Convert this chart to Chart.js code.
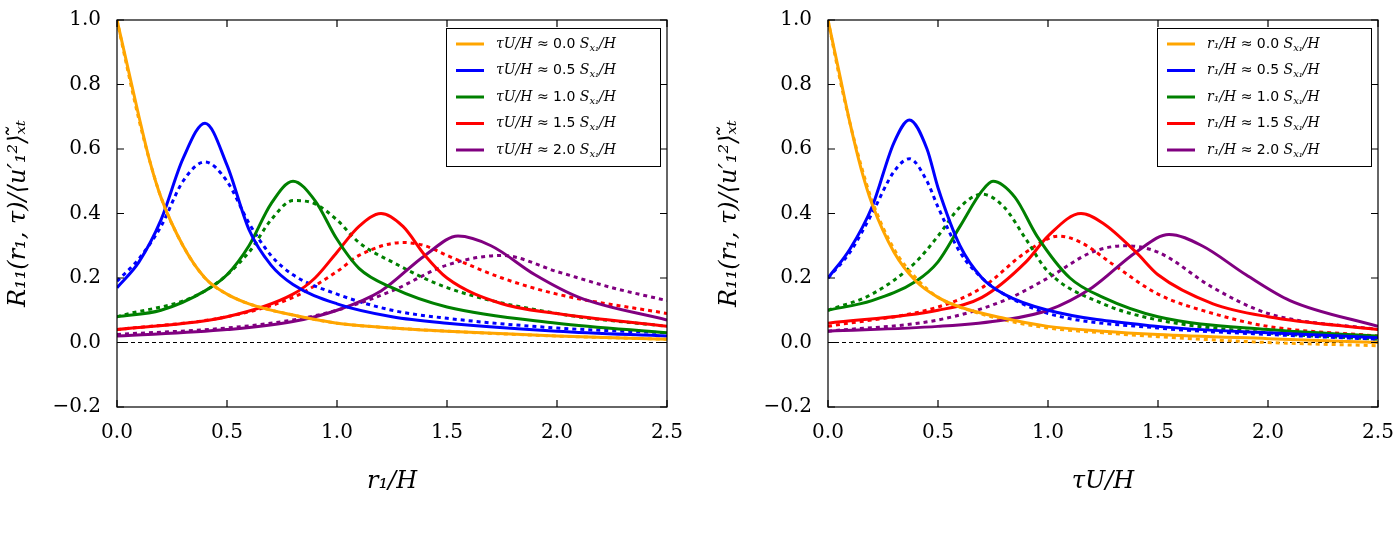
<!DOCTYPE html>
<html><head><meta charset="utf-8">
<script src="https://cdn.jsdelivr.net/npm/chart.js@4"></script>
<style>
body{margin:0;background:#fff;width:1400px;height:536px;position:relative;overflow:hidden}
.box{position:absolute;top:0;width:700px;height:500px}
</style></head><body>
<div class="box" style="left:0"><canvas id="left"></canvas></div>
<div class="box" style="left:711px"><canvas id="right"></canvas></div>
<script>
// peak labels
const peaks = ['0.0', '0.5', '1.0', '1.5', '2.0'];
const colors = ['#ffa500', '#0000ff', '#008000', '#ff0000', '#800080'];
const xTicks = [0, 0.5, 1.0, 1.5, 2.0, 2.5];
const yTicks = [-0.2, 0, 0.2, 0.4, 0.6, 0.8, 1.0];

// left panel (vs r1/H): [x, y] pairs
const leftSolid = [
  [[0,1.0],[0.05,0.85],[0.1,0.7],[0.15,0.56],[0.2,0.45],[0.3,0.3],[0.4,0.2],[0.5,0.15],[0.6,0.12],[0.8,0.085],[1.0,0.06],[1.25,0.045],[1.5,0.035],[2.0,0.02],[2.5,0.01]],
  [[0,0.17],[0.1,0.25],[0.2,0.38],[0.3,0.57],[0.4,0.68],[0.5,0.55],[0.6,0.35],[0.7,0.24],[0.8,0.18],[1.0,0.12],[1.25,0.08],[1.5,0.06],[2.0,0.035],[2.5,0.02]],
  [[0,0.08],[0.2,0.1],[0.4,0.16],[0.5,0.21],[0.6,0.3],[0.7,0.43],[0.8,0.5],[0.9,0.44],[1.0,0.32],[1.1,0.23],[1.25,0.17],[1.5,0.11],[2.0,0.06],[2.5,0.03]],
  [[0,0.04],[0.5,0.08],[0.8,0.15],[0.9,0.2],[1.0,0.28],[1.1,0.36],[1.2,0.4],[1.3,0.36],[1.4,0.27],[1.5,0.2],[1.75,0.12],[2.0,0.09],[2.5,0.05]],
  [[0,0.02],[0.5,0.04],[0.8,0.065],[1.0,0.1],[1.2,0.16],[1.4,0.27],[1.55,0.33],[1.7,0.3],[1.9,0.21],[2.1,0.14],[2.5,0.07]]
];
const leftDotted = [
  [[0,1.0],[0.05,0.84],[0.1,0.69],[0.15,0.56],[0.2,0.45],[0.3,0.3],[0.4,0.2],[0.5,0.15],[0.6,0.12],[0.8,0.085],[1.0,0.06],[1.25,0.045],[1.5,0.035],[2.0,0.02],[2.5,0.01]],
  [[0,0.19],[0.1,0.26],[0.2,0.36],[0.3,0.5],[0.4,0.56],[0.5,0.5],[0.6,0.37],[0.7,0.27],[0.8,0.21],[1.0,0.15],[1.25,0.1],[1.5,0.075],[2.0,0.045],[2.5,0.03]],
  [[0,0.08],[0.4,0.16],[0.6,0.28],[0.7,0.38],[0.8,0.44],[0.9,0.43],[1.0,0.38],[1.1,0.31],[1.25,0.25],[1.5,0.17],[2.0,0.09],[2.5,0.05]],
  [[0,0.04],[0.5,0.08],[0.8,0.14],[1.0,0.22],[1.1,0.27],[1.3,0.31],[1.4,0.3],[1.5,0.27],[1.75,0.2],[2.0,0.15],[2.5,0.09]],
  [[0,0.025],[0.5,0.045],[0.8,0.07],[1.0,0.1],[1.25,0.16],[1.5,0.24],[1.75,0.27],[2.0,0.22],[2.25,0.17],[2.5,0.13]]
];

// right panel (vs tauU/H)
const rightSolid = [
  [[0,1.0],[0.05,0.84],[0.1,0.68],[0.15,0.54],[0.2,0.43],[0.3,0.28],[0.4,0.19],[0.5,0.14],[0.6,0.11],[0.8,0.075],[1.0,0.05],[1.25,0.035],[1.5,0.025],[2.0,0.012],[2.5,0.0]],
  [[0,0.2],[0.1,0.29],[0.2,0.42],[0.3,0.62],[0.37,0.69],[0.45,0.6],[0.5,0.48],[0.6,0.3],[0.7,0.2],[0.8,0.15],[1.0,0.1],[1.5,0.05],[2.0,0.03],[2.5,0.015]],
  [[0,0.1],[0.2,0.13],[0.4,0.19],[0.5,0.25],[0.6,0.36],[0.7,0.47],[0.75,0.5],[0.85,0.45],[0.95,0.33],[1.1,0.2],[1.25,0.14],[1.5,0.08],[2.0,0.04],[2.5,0.02]],
  [[0,0.06],[0.5,0.1],[0.7,0.14],[0.9,0.25],[1.0,0.33],[1.15,0.4],[1.25,0.37],[1.4,0.28],[1.5,0.21],[1.75,0.12],[2.0,0.08],[2.5,0.04]],
  [[0,0.035],[0.5,0.05],[0.8,0.07],[1.0,0.1],[1.2,0.17],[1.4,0.28],[1.55,0.335],[1.7,0.3],[1.9,0.21],[2.1,0.13],[2.5,0.05]]
];
const rightDotted = [
  [[0,1.0],[0.05,0.83],[0.1,0.68],[0.15,0.55],[0.2,0.44],[0.3,0.29],[0.4,0.2],[0.5,0.14],[0.6,0.11],[0.8,0.07],[1.0,0.045],[1.25,0.03],[1.5,0.018],[2.0,0.0],[2.5,-0.01]],
  [[0,0.2],[0.1,0.28],[0.2,0.4],[0.3,0.53],[0.37,0.57],[0.45,0.5],[0.5,0.42],[0.6,0.28],[0.7,0.2],[0.8,0.15],[1.0,0.09],[1.5,0.045],[2.0,0.025],[2.5,0.01]],
  [[0,0.1],[0.2,0.15],[0.4,0.25],[0.5,0.33],[0.6,0.42],[0.7,0.46],[0.8,0.42],[0.9,0.32],[1.0,0.22],[1.25,0.12],[1.5,0.07],[2.0,0.03],[2.5,0.01]],
  [[0,0.05],[0.5,0.11],[0.7,0.17],[0.9,0.28],[1.05,0.33],[1.15,0.31],[1.3,0.24],[1.5,0.15],[1.75,0.09],[2.0,0.05],[2.5,0.02]],
  [[0,0.035],[0.5,0.07],[0.8,0.13],[1.0,0.2],[1.2,0.28],[1.35,0.3],[1.5,0.28],[1.75,0.17],[2.0,0.09],[2.5,0.04]]
];

const pts = a => a.map(p => ({x: p[0], y: p[1]}));
const tickFont = {family: 'DejaVu Serif', size: 20};

// frame with inward ticks on all four sides, plus the legend box
const frameAndLegend = {
  id: 'frameAndLegend',
  afterDraw(chart, args, opts) {
    const ctx = chart.ctx, ca = chart.chartArea;
    const xs = chart.scales.x, ys = chart.scales.y;
    ctx.save();
    ctx.strokeStyle = '#000'; ctx.lineWidth = 1.2;
    ctx.strokeRect(ca.left, ca.top, ca.right - ca.left, ca.bottom - ca.top);
    ctx.beginPath();
    xTicks.forEach(v => {
      const x = xs.getPixelForValue(v);
      ctx.moveTo(x, ca.bottom); ctx.lineTo(x, ca.bottom - 7);
      ctx.moveTo(x, ca.top); ctx.lineTo(x, ca.top + 7);
    });
    yTicks.forEach(v => {
      const y = ys.getPixelForValue(v);
      ctx.moveTo(ca.left, y); ctx.lineTo(ca.left + 7, y);
      ctx.moveTo(ca.right, y); ctx.lineTo(ca.right - 7, y);
    });
    ctx.stroke();

    const w = 214, h = 138, x0 = ca.right - w - 7, y0 = ca.top + 8;
    ctx.fillStyle = '#fff';
    ctx.fillRect(x0, y0, w, h);
    ctx.lineWidth = 1;
    ctx.strokeRect(x0 + 0.5, y0 + 0.5, w, h);
    ctx.textBaseline = 'middle';
    peaks.forEach((p, i) => {
      const y = y0 + 16 + i * 26.5;
      ctx.strokeStyle = colors[i]; ctx.lineWidth = 3;
      ctx.beginPath(); ctx.moveTo(x0 + 10, y); ctx.lineTo(x0 + 38, y); ctx.stroke();
      ctx.fillStyle = '#000';
      let x = x0 + 50;
      ctx.font = 'italic 14px DejaVu Serif';
      ctx.fillText(opts.prefix, x, y); x += ctx.measureText(opts.prefix).width;
      ctx.font = '14px DejaVu Sans';
      ctx.fillText(' ≈ ' + p + ' ', x, y); x += ctx.measureText(' ≈ ' + p + ' ').width;
      ctx.font = 'italic 14px DejaVu Serif';
      ctx.fillText('S', x, y); x += ctx.measureText('S').width;
      ctx.font = 'italic 10px DejaVu Serif';
      ctx.fillText('x₁', x, y + 4); x += ctx.measureText('x₁').width;
      ctx.font = 'italic 14px DejaVu Serif';
      ctx.fillText('/H', x, y);
    });
    ctx.restore();
  }
};

function makeChart(id, solid, dotted, xTitle, prefix) {
  const datasets = [];
  solid.forEach((s, i) => datasets.push({label: 'solid ' + peaks[i], data: pts(s), borderColor: colors[i], borderWidth: 3, pointRadius: 0, cubicInterpolationMode: 'monotone'}));
  dotted.forEach((s, i) => datasets.push({label: 'dotted ' + peaks[i], data: pts(s), borderColor: colors[i], borderWidth: 3, borderDash: [4, 4], pointRadius: 0, cubicInterpolationMode: 'monotone'}));
  datasets.push({label: 'zero', data: [{x: 0, y: 0}, {x: 2.5, y: 0}], borderColor: '#000', borderWidth: 1, borderDash: [4, 3], pointRadius: 0});
  new Chart(document.getElementById(id), {
    type: 'line',
    data: {datasets},
    plugins: [frameAndLegend],
    options: {
      responsive: true, maintainAspectRatio: false, animation: false,
      layout: {padding: {top: 14, right: 33, left: 0, bottom: 0}},
      plugins: {legend: {display: false}, tooltip: {enabled: false}, frameAndLegend: {prefix: prefix}},
      scales: {
        x: {
          type: 'linear', min: 0, max: 2.5,
          afterBuildTicks: s => { s.ticks = xTicks.map(v => ({value: v})); },
          afterFit: s => { s.height = 93; },
          ticks: {font: tickFont, color: '#000', padding: 6, callback: v => v.toFixed(1), maxRotation: 0},
          grid: {display: false},
          border: {display: false},
          title: {display: true, text: xTitle, padding: {top: 22}, font: {family: 'DejaVu Serif', size: 24, style: 'italic'}, color: '#000'}
        },
        y: {
          min: -0.2, max: 1.0,
          afterBuildTicks: s => { s.ticks = yTicks.map(v => ({value: v})); },
          afterFit: s => { s.width = 117; },
          ticks: {font: tickFont, color: '#000', padding: 8, callback: v => (v < 0 ? '−' : '') + Math.abs(v).toFixed(1)},
          grid: {display: false},
          border: {display: false},
          title: {display: true, text: 'R₁₁(r₁, τ)/⟨u′₁²⟩ₓ̃ₜ', font: {family: 'DejaVu Serif', size: 24, style: 'italic'}, color: '#000'}
        }
      }
    }
  });
}

makeChart('left', leftSolid, leftDotted, 'r₁/H', 'τU/H');
makeChart('right', rightSolid, rightDotted, 'τU/H', 'r₁/H');
</script>
</body></html>
